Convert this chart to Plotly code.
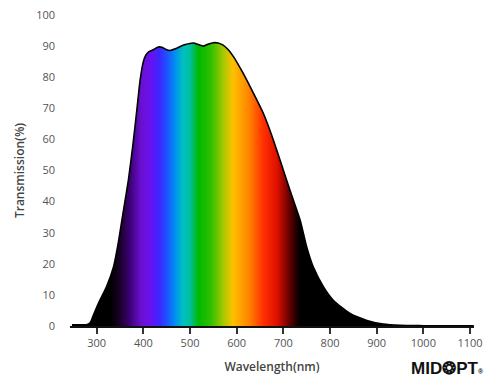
import plotly.graph_objects as go

# Transmission curve (wavelength nm, transmission %)
wavelength = [247, 265, 280, 286, 293, 300, 307, 321, 336, 346, 354, 361, 368, 378, 386, 393,
              400, 405, 412, 421, 432, 440, 450, 457, 470, 478, 490, 507, 518, 528, 538, 550,
              560, 571, 582, 593, 614, 636, 657, 671, 693, 714, 736, 750, 764, 786, 807, 843,
              879, 914, 950, 1000, 1050, 1108]
transmission = [0.4, 0.4, 0.5, 1.0, 3.5, 6.0, 8.3, 12.6, 19.0, 26.5, 34.0, 40.5, 47.0, 58.7, 69.4, 79.0,
                85.0, 87.0, 88.2, 88.8, 89.7, 89.6, 88.8, 88.6, 89.2, 89.8, 90.5, 91.0, 90.5, 90.0, 90.6, 91.1,
                91.0, 90.3, 88.8, 86.6, 81.2, 74.8, 68.4, 63.0, 53.3, 43.7, 34.0, 25.4, 19.0, 12.6, 8.3, 4.0,
                1.8, 0.6, 0.2, 0.1, 0.05, 0.05]

# Spectrum colours by wavelength
spec_nm = [330, 345, 370, 395, 415, 435, 450, 468, 485, 500, 518, 545, 570, 592, 628, 657, 686, 714, 735]
spec_col = ["#000000", "#14001c", "#3a0070", "#6a10d0", "#6a10f0", "#3a28ff", "#2050ff", "#0090f0",
            "#00c0c0", "#00c0a0", "#00b800", "#30c000", "#a0c800", "#ffc000", "#ff8000", "#ff3000",
            "#e01000", "#600000", "#000000"]

x_ticks = [300, 400, 500, 600, 700, 800, 900, 1000, 1100]
y_ticks = [0, 10, 20, 30, 40, 50, 60, 70, 80, 90, 100]

g_start, g_stop = spec_nm[0], spec_nm[-1]
colorscale = [[(n - g_start) / (g_stop - g_start), c] for n, c in zip(spec_nm, spec_col)]

fig = go.Figure()
fig.add_trace(go.Scatter(
    x=wavelength, y=transmission, mode="lines",
    line=dict(color="#000000", width=1.6, shape="spline", smoothing=0.6),
    fill="tozeroy",
    fillgradient=dict(type="horizontal", colorscale=colorscale, start=g_start, stop=g_stop),
    hoverinfo="skip", showlegend=False,
))

fig.update_layout(
    width=500, height=388,
    margin=dict(l=70, r=26, t=15, b=62),
    paper_bgcolor="white", plot_bgcolor="white",
    font=dict(family="Open Sans", size=11, color="#555555"),
    xaxis=dict(
        range=[242.8, 1108.5], tickvals=x_ticks, ticktext=[str(v) for v in x_ticks],
        automargin=False,
        showgrid=False, zeroline=False, showline=True, linecolor="#111111", linewidth=2,
        ticks="outside", ticklen=6, tickwidth=2, tickcolor="#333333",
        tickfont=dict(size=11, color="#555555"),
        title=dict(text="Wavelength(nm)", font=dict(size=12, color="#444444", weight=600), standoff=13),
    ),
    yaxis=dict(
        range=[0, 100], tickvals=y_ticks, ticktext=[str(v) for v in y_ticks],
        automargin=False,
        showgrid=False, zeroline=False, showline=False, ticks="",
        ticklabelstandoff=14,
        tickfont=dict(size=11, color="#555555"),
        title=dict(text="Transmission(%)", font=dict(size=12, color="#444444", weight=600), standoff=8),
    ),
)

fig.add_annotation(
    xref="paper", yref="paper", x=1.03, y=-0.138, xanchor="right", yanchor="middle",
    text="MID❂PT<span style='font-size:7px'>®</span>", showarrow=False,
    font=dict(family="Liberation Sans", size=17, color="#111111", weight=700),
)

fig.write_html("out.html", config={"displayModeBar": False},
               post_script="document.body.style.margin='0';document.body.style.padding='0';")
